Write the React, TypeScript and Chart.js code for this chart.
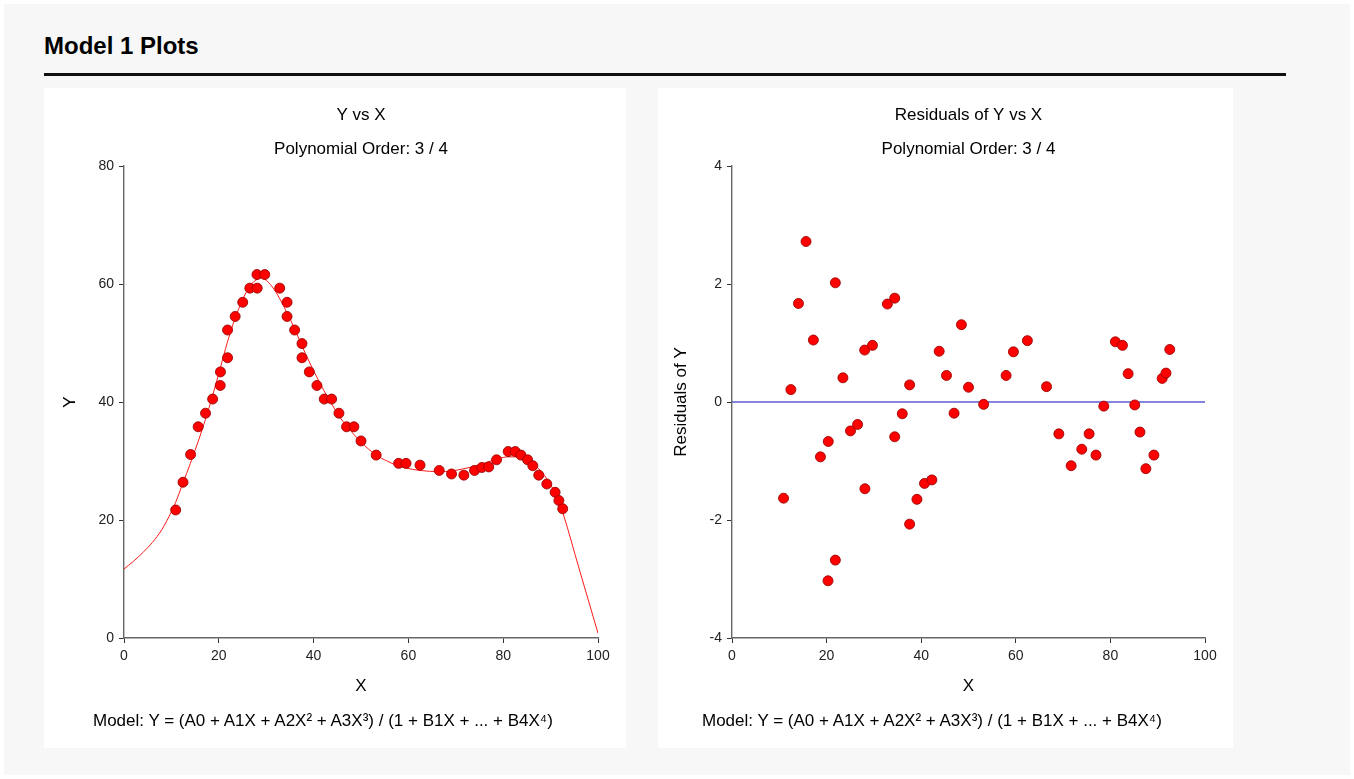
import React, { useEffect, useRef } from 'react';
import { Chart, registerables } from 'chart.js';

Chart.register(...registerables);

const FONT = 'Arial, "Liberation Sans", Helvetica, sans-serif';

// ---- data ----
const xValues = [10.9, 12.45, 14.05, 15.65, 17.2, 18.7, 20.3, 20.35, 21.85, 21.85, 23.45, 25.05, 26.55, 28.1, 28.05, 29.7, 32.85, 34.4, 34.4, 36.0, 37.55, 37.55, 39.1, 40.7, 42.25, 43.8, 45.35, 46.95, 48.5, 50.0, 53.2, 57.95, 59.5, 62.45, 66.5, 69.1, 71.7, 73.95, 75.5, 76.95, 78.6, 81.05, 82.55, 83.75, 85.15, 86.25, 87.5, 89.2, 90.95, 91.75, 92.55];
const yValues = [21.7, 26.4, 31.1, 35.8, 38.1, 40.5, 42.8, 45.1, 47.5, 52.2, 54.5, 56.9, 59.3, 59.3, 61.6, 61.6, 59.3, 56.9, 54.5, 52.2, 49.9, 47.5, 45.1, 42.8, 40.5, 40.5, 38.1, 35.8, 35.8, 33.4, 31.0, 29.6, 29.6, 29.3, 28.4, 27.8, 27.6, 28.4, 28.9, 29.0, 30.2, 31.6, 31.6, 31.0, 30.2, 29.2, 27.6, 26.1, 24.7, 23.3, 21.9];
const residuals = [-1.63, 0.21, 1.67, 2.72, 1.05, -0.93, -3.03, -0.67, -2.68, 2.02, 0.41, -0.49, -0.38, -1.47, 0.88, 0.96, 1.66, 1.76, -0.59, -0.2, 0.29, -2.07, -1.65, -1.38, -1.32, 0.86, 0.45, -0.19, 1.31, 0.25, -0.04, 0.45, 0.85, 1.04, 0.26, -0.54, -1.08, -0.8, -0.54, -0.9, -0.07, 1.02, 0.96, 0.48, -0.05, -0.51, -1.13, -0.9, 0.4, 0.49, 0.89];
const fitX = [0, 2, 4, 6, 8, 10, 10.9, 12.4, 14.0, 15.6, 17.2, 18.7, 20.3, 21.8, 23.4, 25.0, 26.5, 28.1, 29.0, 29.7, 31.3, 32.8, 34.4, 36.0, 37.5, 39.1, 40.7, 42.2, 43.8, 45.3, 46.9, 48.5, 50.0, 53.2, 55.5, 58.0, 59.5, 62.4, 66.5, 69.1, 71.7, 73.9, 75.5, 77.0, 78.6, 80.0, 81.0, 82.5, 83.7, 85.1, 86.2, 87.5, 89.2, 91.0, 91.8, 92.6, 96.0, 100];
const fitY = [11.7, 13.0, 14.5, 16.2, 18.4, 21.4, 23.0, 26.2, 29.6, 33.2, 37.1, 41.1, 45.7, 50.1, 54.1, 57.3, 59.6, 60.8, 61.0, 60.8, 59.5, 57.6, 55.1, 52.4, 49.6, 46.8, 44.2, 41.9, 39.7, 37.7, 36.0, 34.5, 33.2, 31.0, 30.0, 29.1, 28.8, 28.4, 28.2, 28.3, 28.7, 29.1, 29.5, 29.9, 30.3, 30.6, 30.7, 30.7, 30.5, 30.1, 29.6, 28.7, 27.0, 24.5, 23.0, 21.2, 11.8, 0.8];
const zeroLineX = [0, 100];
const zeroLineY = [0, 0];

const xTicks = [0, 20, 40, 60, 80, 100];
const yTicks = [0, 20, 40, 60, 80];
const residualTicks = [-4, -2, 0, 2, 4];

const leftTitle = ['Y vs X', 'Polynomial Order: 3 / 4'];
const rightTitle = ['Residuals of Y vs X', 'Polynomial Order: 3 / 4'];
const modelText = 'Model: Y = (A0 + A1X + A2X\u00B2 + A3X\u00B3) / (1 + B1X + ... + B4X\u2074)';

const pts = (xs: number[], ys: number[]) => xs.map((x, i) => ({ x, y: ys[i] }));

type PanelProps = {
  width: number;
  height: number;
  plotLeft: number;
  plotRight: number;
  yTitle: string;
  yTitlePad: number;
  yTickVals: number[];
  titleLines: string[];
  makeDatasets: () => any[];
};

function Panel(p: PanelProps) {
  const ref = useRef<HTMLCanvasElement | null>(null);
  useEffect(() => {
    const tickFont = { family: FONT, size: 14 };
    const labelFont = { family: FONT, size: 17 };
    const axisGrid = {
      display: true,
      drawOnChartArea: false,
      drawTicks: true,
      tickLength: 5,
      color: '#333',
      lineWidth: 1,
    };
    const axisBorder = { display: true, color: '#666', width: 1.4 };
    const chart = new Chart(ref.current as HTMLCanvasElement, {
      type: 'scatter',
      data: { datasets: p.makeDatasets() },
      options: {
        responsive: false,
        animation: false,
        devicePixelRatio: 1,
        layout: { padding: { left: 0, right: p.width - p.plotRight, top: 0, bottom: 51 } },
        plugins: {
          legend: { display: false },
          tooltip: { enabled: false },
          title: {
            display: true,
            fullSize: false,
            text: p.titleLines,
            color: '#000',
            font: { family: FONT, size: 17, weight: 'normal', lineHeight: '34px' } as any,
            padding: { top: 10, bottom: 0 },
          },
        },
        scales: {
          x: {
            type: 'linear',
            min: xTicks[0],
            max: xTicks[xTicks.length - 1],
            afterBuildTicks: (s: any) => {
              s.ticks = xTicks.map((v) => ({ value: v }));
            },
            afterFit: (s: any) => {
              s.height = 59;
            },
            ticks: { font: tickFont, color: '#222', padding: 5, maxRotation: 0 },
            grid: axisGrid,
            border: axisBorder,
            title: {
              display: true,
              text: 'X',
              color: '#000',
              font: labelFont,
              padding: { top: 0, bottom: 0 },
            },
          },
          y: {
            type: 'linear',
            min: p.yTickVals[0],
            max: p.yTickVals[p.yTickVals.length - 1],
            afterBuildTicks: (s: any) => {
              s.ticks = p.yTickVals.map((v) => ({ value: v }));
            },
            afterFit: (s: any) => {
              s.width = p.plotLeft;
            },
            ticks: { font: tickFont, color: '#222', padding: 5 },
            grid: axisGrid,
            border: axisBorder,
            title: {
              display: true,
              text: p.yTitle,
              color: '#000',
              font: labelFont,
              padding: { top: p.yTitlePad, bottom: 0 },
            },
          },
        },
      } as any,
    });
    return () => chart.destroy();
  }, []);
  return (
    <canvas
      ref={ref}
      width={p.width}
      height={p.height}
      style={{ display: 'block', width: p.width, height: p.height }}
    />
  );
}

const pointStyle = {
  backgroundColor: '#ff0000',
  borderColor: 'rgba(150,0,0,0.85)',
  borderWidth: 1,
  pointRadius: 5,
  showLine: false,
};

const footStyle: React.CSSProperties = {
  position: 'absolute',
  top: 711,
  fontSize: 17,
  lineHeight: '20px',
  color: '#000',
  whiteSpace: 'nowrap',
};

export default function App() {
  return (
    <div style={{ position: 'absolute', left: 0, top: 0, width: 1354, height: 779, fontFamily: FONT }}>
      <div style={{ position: 'absolute', left: 4, top: 4, width: 1346, height: 771, background: '#f7f7f7' }} />
      <div
        style={{
          position: 'absolute',
          left: 44,
          top: 33.7,
          fontSize: 24,
          lineHeight: '24px',
          fontWeight: 'bold',
          color: '#000',
          whiteSpace: 'nowrap',
        }}
      >
        Model 1 Plots
      </div>
      <div style={{ position: 'absolute', left: 44, top: 73, width: 1242, height: 3, background: '#111' }} />

      <div style={{ position: 'absolute', left: 44, top: 88, width: 582, height: 660, background: '#fff' }}>
        <Panel
          width={582}
          height={660}
          plotLeft={80}
          plotRight={554}
          yTitle="Y"
          yTitlePad={15.8}
          yTickVals={yTicks}
          titleLines={leftTitle}
          makeDatasets={() => [
            { ...pointStyle, data: pts(xValues, yValues) },
            {
              data: pts(fitX, fitY),
              showLine: true,
              borderColor: '#ff1a1a',
              borderWidth: 1,
              pointRadius: 0,
              cubicInterpolationMode: 'monotone',
            },
          ]}
        />
      </div>

      <div style={{ position: 'absolute', left: 658, top: 88, width: 575, height: 660, background: '#fff' }}>
        <Panel
          width={575}
          height={660}
          plotLeft={74}
          plotRight={547}
          yTitle="Residuals of Y"
          yTitlePad={12.8}
          yTickVals={residualTicks}
          titleLines={rightTitle}
          makeDatasets={() => [
            { ...pointStyle, data: pts(xValues, residuals) },
            {
              data: pts(zeroLineX, zeroLineY),
              showLine: true,
              borderColor: '#5c5cd0',
              borderWidth: 1.4,
              pointRadius: 0,
            },
          ]}
        />
      </div>

      <div style={{ ...footStyle, left: 93 }}>{modelText}</div>
      <div style={{ ...footStyle, left: 702 }}>{modelText}</div>
    </div>
  );
}
